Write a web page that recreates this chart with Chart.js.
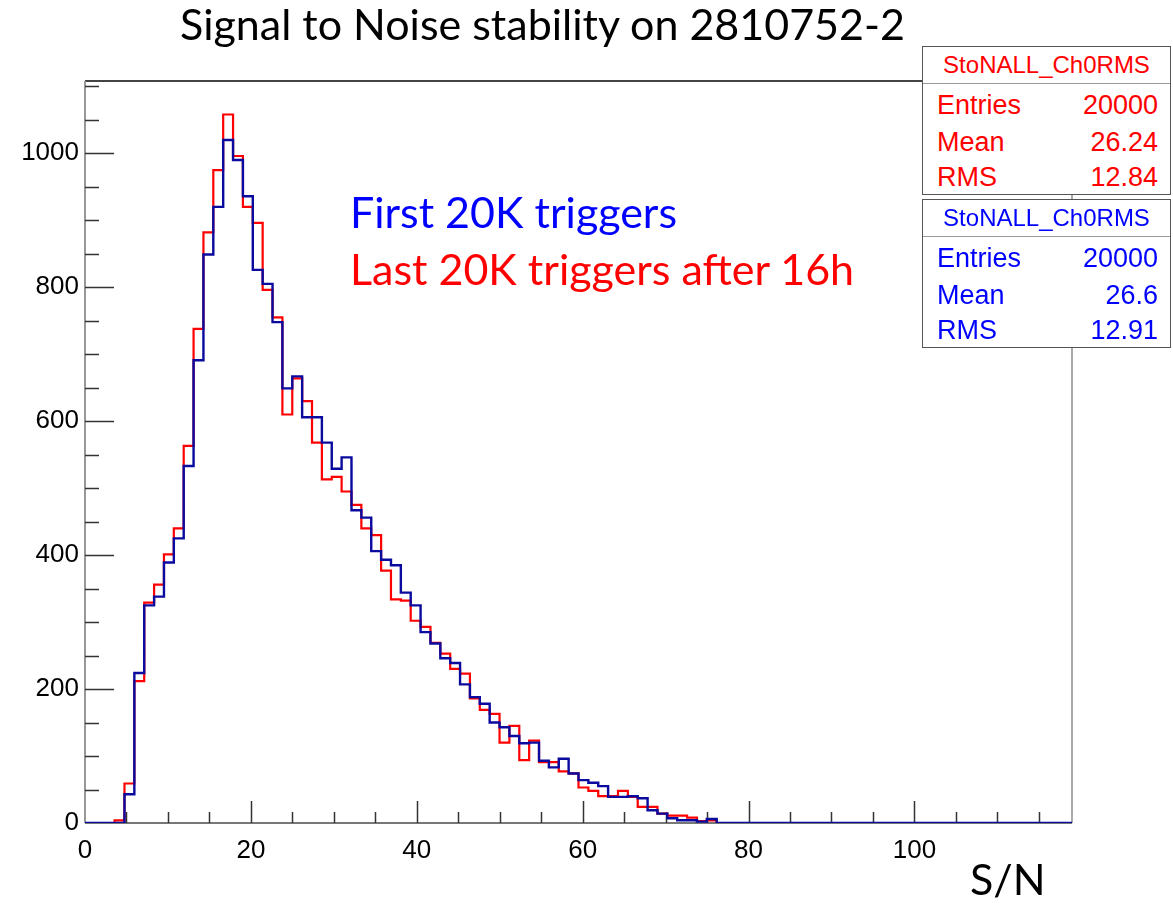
<!DOCTYPE html>
<html>
<head>
<meta charset="utf-8">
<script src="https://cdn.jsdelivr.net/npm/chart.js@4.4.0/dist/chart.umd.min.js"></script>
<style>
  body { margin: 0; background: #fff; }
  #wrap { position: relative; width: 1173px; height: 904px; overflow: hidden; }
  #sn { position: absolute; left: 0; top: 0; }
  .big { position: absolute; font-family: Lato, "Open Sans", sans-serif; font-size: 43px; line-height: 43px; white-space: nowrap; }
  .stats { position: absolute; left: 922px; width: 247px; height: 147px; background: #fff; border: 1px solid #555;
           font-family: "Liberation Sans", Arial, sans-serif; }
  .stats .head { position: absolute; left: 0; right: 0; top: 0; height: 36px; border-bottom: 1px solid #999;
                 text-align: center; font-size: 24px; line-height: 36px; }
  .stats .row { position: absolute; left: 14px; right: 12px; font-size: 27px; line-height: 30px; }
  .stats .row span { float: right; }
</style>
</head>
<body>
<div id="wrap">
  <canvas id="sn" width="1173" height="904"></canvas>
  <div class="big" style="left:180px; top:2px; color:#000">Signal to Noise stability on 2810752-2</div>
  <div class="big" style="left:350px; top:190px; color:#0000ff">First 20K triggers</div>
  <div class="big" style="left:350px; top:247px; color:#ff0000">Last 20K triggers after 16h</div>
  <div class="big" style="left:970px; top:857px; color:#000">S/N</div>
  <div class="stats" id="statsRed" style="top:46px; color:#ff0000"></div>
  <div class="stats" id="statsBlue" style="top:199px; color:#0000ff"></div>
</div>
<script>
// S/N histogram, 100 bins from 0 to 119; counts listed from bin 3 to bin 63, everything else is empty
var nBins = 100;
var xLow = 0;
var xHigh = 119;
var firstBin = 3;

var firstCounts = [0, 43, 224, 325, 338, 389, 425, 533, 691, 849,
  920, 1020, 990, 936, 826, 805, 748, 649, 667, 606,
  606, 568, 529, 546, 467, 456, 406, 393, 385, 344,
  325, 285, 268, 246, 239, 207, 188, 178, 150, 143,
  130, 119, 120, 93, 83, 96, 74, 64, 60, 55,
  39, 39, 40, 37, 19, 14, 7, 4, 4, 2, 6];

var lastCounts = [4, 59, 212, 329, 356, 401, 440, 563, 738, 882,
  975, 1058, 996, 920, 896, 796, 755, 610, 664, 630,
  568, 513, 517, 495, 475, 440, 430, 377, 334, 332,
  302, 293, 269, 253, 230, 223, 186, 169, 163, 120,
  145, 94, 123, 91, 91, 77, 74, 53, 48, 40,
  40, 48, 39, 24, 24, 14, 11, 11, 8, 3, 4];

var histName = 'StoNALL_Ch0RMS';
var firstStats = { Entries: '20000', Mean: '26.6', RMS: '12.91' };
var lastStats = { Entries: '20000', Mean: '26.24', RMS: '12.84' };

var yMax = 1108;
var xMajor = 20, xMinor = 5;
var yMajor = 200, yMinor = 50;

// turn bin counts into step points: one point per bin low edge plus the last high edge
function histPoints(counts) {
  var w = (xHigh - xLow) / nBins;
  var pts = [];
  for (var i = 0; i < nBins; i++) {
    var j = i - firstBin;
    var c = (j >= 0 && j < counts.length) ? counts[j] : 0;
    pts.push({ x: xLow + i * w, y: c });
  }
  pts.push({ x: xHigh, y: pts[nBins - 1].y });
  return pts;
}

function fillStats(id, st) {
  var el = document.getElementById(id);
  var html = '<div class="head">' + histName + '</div>';
  var tops = [43, 80, 115];
  var keys = ['Entries', 'Mean', 'RMS'];
  keys.forEach(function(k, i) {
    html += '<div class="row" style="top:' + tops[i] + 'px">' + k + '<span>' + st[k] + '</span></div>';
  });
  el.innerHTML = html;
}
fillStats('statsRed', lastStats);
fillStats('statsBlue', firstStats);

// ROOT style frame: axis lines plus inward tick marks
var rootFrame = {
  id: 'rootFrame',
  beforeDatasetsDraw: function(chart) {
    var c = chart.ctx, a = chart.chartArea;
    var xs = chart.scales.x, ys = chart.scales.y;
    c.save();
    c.lineWidth = 2;
    c.strokeStyle = '#444';
    c.beginPath(); c.moveTo(a.left, a.top); c.lineTo(a.right, a.top); c.stroke();
    c.strokeStyle = '#aaa';
    c.beginPath(); c.moveTo(a.right, a.top); c.lineTo(a.right, a.bottom); c.stroke();
    c.strokeStyle = '#999';
    c.beginPath(); c.moveTo(a.left, a.top); c.lineTo(a.left, a.bottom); c.stroke();
    c.strokeStyle = '#777';
    c.beginPath(); c.moveTo(a.left, a.bottom); c.lineTo(a.right, a.bottom); c.stroke();

    c.strokeStyle = '#333';
    c.lineWidth = 1.5;
    c.beginPath();
    for (var v = yMinor; v <= yMax; v += yMinor) {
      var py = Math.round(ys.getPixelForValue(v)) + 0.5;
      var len = (v % yMajor === 0) ? 29 : 14;
      c.moveTo(a.left, py); c.lineTo(a.left + len, py);
    }
    for (var u = xMinor; u < xHigh; u += xMinor) {
      var px = Math.round(xs.getPixelForValue(u)) + 0.5;
      var l2 = (u % xMajor === 0) ? 22 : 11;
      c.moveTo(px, a.bottom); c.lineTo(px, a.bottom - l2);
    }
    c.stroke();
    c.restore();
  }
};

var tickFont = { family: 'Liberation Sans', size: 26 };

new Chart(document.getElementById('sn').getContext('2d'), {
  type: 'line',
  data: {
    datasets: [
      { label: 'First 20K triggers', data: histPoints(firstCounts), borderColor: '#0a0a9e', borderWidth: 2.4,
        stepped: true, pointRadius: 0, fill: false },
      { label: 'Last 20K triggers after 16h', data: histPoints(lastCounts), borderColor: '#ff0000', borderWidth: 2.2,
        stepped: true, pointRadius: 0, fill: false }
    ]
  },
  options: {
    responsive: false,
    animation: false,
    layout: { padding: { left: 0, top: 81, right: 101, bottom: 0 } },
    plugins: { legend: { display: false }, tooltip: { enabled: false } },
    scales: {
      x: {
        type: 'linear', min: xLow, max: xHigh,
        grid: { display: false, drawTicks: false }, border: { display: false },
        ticks: { stepSize: xMinor, autoSkip: false, maxRotation: 0, includeBounds: false, padding: 12,
          color: '#000', font: tickFont,
          callback: function(v) { return v % xMajor === 0 ? String(v) : ''; } },
        afterFit: function(s) { s.height = 81; }
      },
      y: {
        min: 0, max: yMax,
        grid: { display: false, drawTicks: false }, border: { display: false },
        ticks: { stepSize: yMinor, autoSkip: false, includeBounds: false, padding: 6,
          color: '#000', font: tickFont,
          callback: function(v) { return v % yMajor === 0 ? String(v) : ''; } },
        afterFit: function(s) { s.width = 85; }
      }
    }
  },
  plugins: [rootFrame]
});
</script>
</body>
</html>
